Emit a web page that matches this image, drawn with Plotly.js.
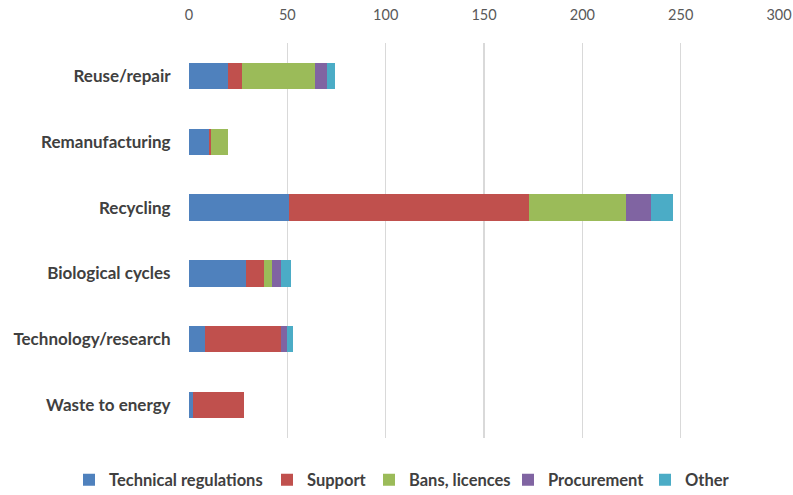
<!DOCTYPE html>
<html>
<head>
<meta charset="utf-8">
<script src="https://cdn.plot.ly/plotly-3.0.1.min.js"></script>
<style>html,body{margin:0;padding:0;background:#fff;}#chart{width:793px;height:495px;}</style>
</head>
<body>
<div id="chart"></div>
<script>
const categories = ["Reuse/repair", "Remanufacturing", "Recycling", "Biological cycles", "Technology/research", "Waste to energy"];
const seriesNames = ["Technical regulations", "Support", "Bans, licences", "Procurement", "Other"];
const technicalRegulations = [20, 10, 51, 29, 8, 2];
const support = [7, 1, 122, 9, 39, 26];
const bansLicences = [37, 9, 49, 4, 0, 0];
const procurement = [6, 0, 13, 5, 3, 0];
const other = [4, 0, 11, 5, 3, 0];
const tickValues = [0, 50, 100, 150, 200, 250, 300];

const seriesValues = [technicalRegulations, support, bansLicences, procurement, other];
const colors = ["#4F81BD", "#C0504D", "#9BBB59", "#8064A2", "#4BACC6"];
// left edge (px in the 793-wide container) of each legend entry
const legendLeft = [69, 267, 369, 508, 645];
const legendIds = ["legend", "legend2", "legend3", "legend4", "legend5"];

const fam = "Lato, 'Open Sans', sans-serif";

const traces = seriesNames.map((name, i) => ({
  type: "bar",
  orientation: "h",
  name: name,
  y: categories,
  x: seriesValues[i],
  legend: legendIds[i],
  marker: {color: colors[i], line: {width: 0}},
  hoverinfo: "x+y+name"
}));

const layout = {
  width: 793, height: 495,
  margin: {l: 189, r: 14, t: 43, b: 57, pad: 0},
  paper_bgcolor: "#fff", plot_bgcolor: "#fff",
  barmode: "stack",
  bargap: 0.6,
  font: {family: fam, size: 15, color: "#404040"},
  xaxis: {
    side: "top",
    range: [0, 300],
    tickvals: tickValues,
    ticktext: tickValues.map(String),
    showgrid: true, gridcolor: "#d9d9d9", gridwidth: 1.5,
    zeroline: false, showline: false,
    ticks: "outside", ticklen: 16, tickcolor: "rgba(0,0,0,0)",
    tickfont: {family: fam, size: 14.5, color: "#595959"},
    fixedrange: true
  },
  yaxis: {
    autorange: "reversed",
    showgrid: false, zeroline: false, showline: false,
    ticks: "outside", ticklen: 14, tickcolor: "rgba(0,0,0,0)",
    tickfont: {family: fam, size: 17, color: "#404040", weight: "bold"},
    fixedrange: true
  },
  showlegend: true
};

legendIds.forEach((id, i) => {
  layout[id] = {
    orientation: "h",
    xref: "container", x: legendLeft[i] / 793, xanchor: "left",
    yref: "container", y: 1 - 480 / 495, yanchor: "middle",
    font: {family: fam, size: 16.5, color: "#404040", weight: "bold"},
    itemwidth: 30,
    bgcolor: "rgba(0,0,0,0)",
    borderwidth: 0
  };
});

Plotly.newPlot("chart", traces, layout, {displayModeBar: false, staticPlot: true});
</script>
</body>
</html>
